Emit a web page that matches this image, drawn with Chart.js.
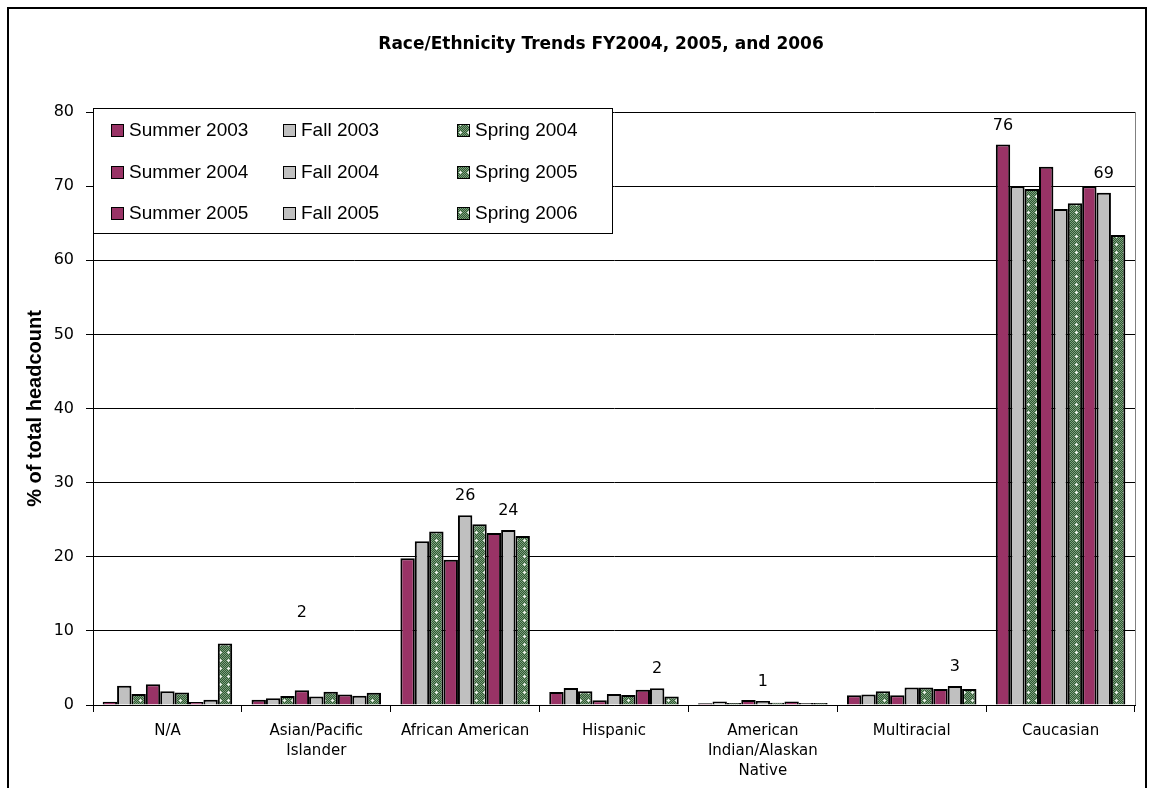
<!DOCTYPE html>
<html>
<head>
<meta charset="utf-8">
<script src="https://cdn.jsdelivr.net/npm/chart.js@4.4.1/dist/chart.umd.min.js"></script>
<style>
  html, body { margin: 0; padding: 0; background: #fff; }
  #wrap { width: 1154px; height: 788px; }
</style>
</head>
<body>
<div id="wrap"><canvas id="raceChart" width="1154" height="788"></canvas></div>
<script>
// categories along the x axis
var categories = ['N/A', ['Asian/Pacific', 'Islander'], 'African American', 'Hispanic',
  ['American', 'Indian/Alaskan', 'Native'], 'Multiracial', 'Caucasian'];

// % of total headcount, one array per term
var summer2003 = [0.45, 0.7, 19.8, 1.75, 0.23, 1.3, 75.6];
var fall2003   = [2.6, 0.9, 22.1, 2.3, 0.46, 1.4, 70.0];
var spring2004 = [1.5, 1.2, 23.4, 1.85, 0.27, 1.85, 69.6];
var summer2004 = [2.8, 2.0, 19.6, 0.65, 0.67, 1.3, 72.6];
var fall2004   = [1.85, 1.15, 25.6, 1.48, 0.55, 2.35, 66.9];
var spring2005 = [1.7, 1.8, 24.4, 1.35, 0.32, 2.35, 67.7];
var summer2005 = [0.4, 1.4, 23.2, 2.05, 0.46, 2.15, 70.0];
var fall2005   = [0.7, 1.25, 23.6, 2.25, 0.27, 2.55, 69.1];
var spring2006 = [8.3, 1.65, 22.8, 1.15, 0.27, 2.15, 63.4];

var seriesNames = ['Summer 2003', 'Fall 2003', 'Spring 2004',
  'Summer 2004', 'Fall 2004', 'Spring 2005',
  'Summer 2005', 'Fall 2005', 'Spring 2006'];

// which bars carry a value label (category index, series index)
var labelCats   = [1, 2, 2, 3, 4, 5, 6, 6];
var labelSeries = [3, 4, 7, 7, 4, 7, 0, 7];

var yTicks = [0, 10, 20, 30, 40, 50, 60, 70, 80];

var canvas = document.getElementById('raceChart');
var ctx = canvas.getContext('2d');

function springPattern() {
  var c = document.createElement('canvas');
  c.width = 8; c.height = 8;
  var g = c.getContext('2d');
  g.fillStyle = '#2f5a33';
  g.fillRect(0, 0, 8, 8);
  g.fillStyle = '#7e9f7e';
  for (var y = 0; y < 8; y++) {
    for (var x = 0; x < 8; x++) {
      if ((x + y) % 2 === 0) g.fillRect(x, y, 1, 1);
    }
  }
  g.fillStyle = '#e8efe8';
  g.fillRect(4, 3, 1, 3);
  g.fillRect(3, 4, 3, 1);
  return ctx.createPattern(c, 'repeat');
}

var maroon = '#993366';
var gray = '#c0c0c0';
var green = springPattern();
var fills = [maroon, gray, green, maroon, gray, green, maroon, gray, green];
var allValues = [summer2003, fall2003, spring2004, summer2004, fall2004, spring2005,
  summer2005, fall2005, spring2006];

var datasets = seriesNames.map(function (name, i) {
  return {
    label: name,
    data: allValues[i],
    backgroundColor: fills[i],
    borderColor: '#000',
    borderWidth: 2,
    categoryPercentage: 0.87,
    barPercentage: 1.0
  };
});

var framePlugin = {
  id: 'frame',
  beforeDraw: function (chart) {
    var c = chart.ctx;
    c.save();
    c.fillStyle = '#fff';
    c.fillRect(0, 0, chart.width, chart.height);
    c.strokeStyle = '#000';
    c.lineWidth = 2;
    c.strokeRect(8, 8, 1138, 800);
    c.fillStyle = '#000';
    c.font = 'bold 17px "DejaVu Sans"';
    c.textAlign = 'center';
    c.textBaseline = 'middle';
    c.fillText('Race/Ethnicity Trends FY2004, 2005, and 2006', 601, 45);
    c.restore();
  },
  beforeDatasetsDraw: function (chart) {
    var a = chart.chartArea, c = chart.ctx;
    c.save();
    c.strokeStyle = '#808080';
    c.lineWidth = 1;
    c.beginPath();
    c.moveTo(a.right + 0.5, a.top);
    c.lineTo(a.right + 0.5, a.bottom);
    c.stroke();
    c.restore();
  }
};

var valueLabelPlugin = {
  id: 'valueLabels',
  afterDatasetsDraw: function (chart, args, opts) {
    var c = chart.ctx, yScale = chart.scales.y;
    c.save();
    c.fillStyle = '#000';
    c.font = '16px "DejaVu Sans"';
    c.textAlign = 'center';
    c.textBaseline = 'middle';
    labelCats.forEach(function (cat, k) {
      var s = labelSeries[k];
      var bar = chart.getDatasetMeta(s).data[cat];
      var v = chart.data.datasets[s].data[cat];
      var y = bar.y - 19;
      if (opts.raised[cat] !== undefined) y = yScale.getPixelForValue(opts.raised[cat]);
      c.fillText(String(Math.round(v)), bar.x, y);
    });
    c.restore();
  }
};

var boxLegendPlugin = {
  id: 'boxLegend',
  afterDraw: function (chart) {
    var c = chart.ctx;
    var left = chart.chartArea.left, top = 108, right = 612, bottom = 233;
    var colX = [111, 283, 457];
    var rowY = [130, 172, 213];
    c.save();
    c.fillStyle = '#fff';
    c.fillRect(left, top, right - left, bottom - top);
    c.strokeStyle = '#000';
    c.lineWidth = 1;
    c.strokeRect(left + 0.5, top + 0.5, right - left, bottom - top);
    c.font = '19px "Liberation Sans"';
    c.textBaseline = 'middle';
    c.textAlign = 'left';
    chart.data.datasets.forEach(function (ds, i) {
      var x = colX[i % 3], y = rowY[Math.floor(i / 3)];
      c.fillStyle = ds.backgroundColor;
      c.fillRect(x, y - 6, 12, 12);
      c.strokeStyle = '#000';
      c.strokeRect(x + 0.5, y - 5.5, 12, 12);
      c.fillStyle = '#000';
      c.fillText(ds.label, x + 18, y + 1);
    });
    c.restore();
  }
};

Chart.defaults.font.family = '"DejaVu Sans"';
Chart.defaults.color = '#000';

new Chart(ctx, {
  type: 'bar',
  data: { labels: categories, datasets: datasets },
  options: {
    responsive: false,
    animation: false,
    layout: { padding: { left: 8, top: 112, right: 19, bottom: 13 } },
    plugins: {
      legend: { display: false },
      title: { display: false },
      tooltip: { enabled: false },
      valueLabels: { raised: { 1: 12.5 } }
    },
    scales: {
      x: {
        grid: { offset: true, drawOnChartArea: false, color: '#000', tickLength: 7 },
        border: { color: '#000' },
        ticks: { font: { size: 15, lineHeight: 1.33 }, color: '#000', padding: 9, maxRotation: 0, autoSkip: false },
        afterFit: function (s) { s.height = 70; }
      },
      y: {
        min: 0,
        max: 80,
        afterBuildTicks: function (s) { s.ticks = yTicks.map(function (v) { return { value: v }; }); },
        ticks: { font: { size: 16 }, color: '#000', padding: 12 },
        grid: { color: '#000', tickLength: 7 },
        border: { color: '#000' },
        title: {
          display: true,
          text: '% of total headcount',
          color: '#000',
          font: { family: '"Liberation Sans"', size: 20, weight: 'bold' },
          padding: { top: 15 }
        },
        afterFit: function (s) { s.width = 85; }
      }
    }
  },
  plugins: [framePlugin, valueLabelPlugin, boxLegendPlugin]
});
</script>
</body>
</html>
